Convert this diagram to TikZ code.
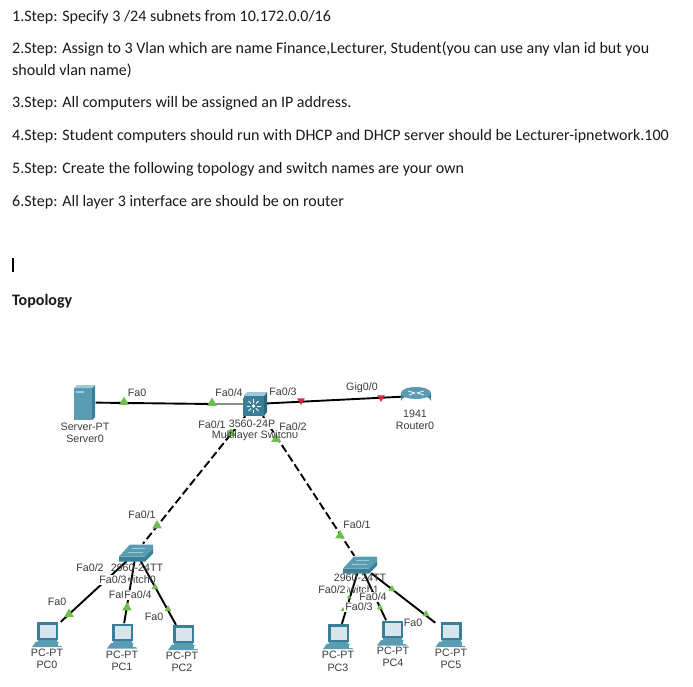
\documentclass[tikz,border=0pt]{standalone}
\usepackage{fontspec}
\setmainfont{Carlito}
\newfontfamily\labelfont{Liberation Sans}
\usetikzlibrary{shapes.geometric}
\definecolor{tealmid}{HTML}{5A9DB3}
\definecolor{tealdark}{HTML}{3A7F97}
\definecolor{teallight}{HTML}{9CCAD8}
\definecolor{screenblue}{HTML}{D6E6EC}
\definecolor{portgreen}{HTML}{6CC04A}
\definecolor{portred}{HTML}{D8263C}
\definecolor{labelgray}{HTML}{3A3A3A}

\begin{document}
\begin{tikzpicture}[x=1pt, y=-1pt,
    steptext/.style={anchor=base west, inner sep=0pt, font=\fontsize{16}{19}\selectfont, text=black!90},
    devlabel/.style={font=\labelfont\fontsize{10.7}{12}\selectfont, text=labelgray, inner sep=0pt},
    portlabel/.style={font=\labelfont\fontsize{10.7}{12}\selectfont, text=labelgray, fill=white, inner xsep=1pt, inner ysep=1.5pt},
    hostbox/.style={minimum width=30pt, minimum height=25pt, inner sep=0pt},
    link/.style={line width=1.9pt, black},
    trunk/.style={link, dash pattern=on 8pt off 3.5pt},
    portup/.style={regular polygon, regular polygon sides=3, fill=portgreen, inner sep=0pt, minimum size=11pt},
    portdown/.style={regular polygon, regular polygon sides=3, shape border rotate=180, fill=portred, inner sep=0pt, minimum size=9pt},
    pcicon/.pic={
        \fill [tealdark] (-10,-12.5) -- (11,-12.5) -- (11,5) -- (-10,5) -- cycle;
        \fill [screenblue] (-7.5,-10) rectangle (8.5,3);
        \fill [tealmid] (-9,5) rectangle (10,7);
        \fill [tealmid] (-11,7) -- (11,7) -- (15,12.5) -- (-15,12.5) -- cycle;
        \fill [white] (11,8) rectangle (14,11);
    },
    srvicon/.pic={
        \fill [tealdark] (7,-14.5) -- (10,-17.5) -- (10,14.5) -- (7,17.5) -- cycle;
        \fill [teallight] (-11,-14.5) -- (-8,-17.5) -- (10,-17.5) -- (7,-14.5) -- cycle;
        \fill [tealmid] (-11,-14.5) rectangle (7,17.5);
        \fill [teallight] (-9,-11.5) rectangle (-1,-9.5);
    },
    mswicon/.pic={
        \fill [tealdark!80!black] (9,-8) -- (12,-12) -- (12,8) -- (9,12) -- cycle;
        \fill [teallight] (-12,-8) -- (-8,-12) -- (12,-12) -- (9,-8) -- cycle;
        \fill [tealdark] (-12,-8) rectangle (9,12);
        \foreach \ang in {0,45,...,315} {
            \draw [white, line width=0.9pt] (-1.5,2) ++(\ang:3.5) -- ++(\ang:3.5);
        }
        \fill [white] (-1.5,2) circle (1.8);
    },
    swicon/.pic={
        \fill [tealdark] (-17,4) -- (9,4) -- (17,-4) -- (17,1) -- (9,9) -- (-17,9) -- cycle;
        \fill [tealmid] (-17,4) -- (-6,-8) -- (17,-8) -- (17,-4) -- (9,4) -- cycle;
        \draw [teallight, line width=0.6pt] (-8,0) -- (7,0) (-4,-4) -- (9,-4);
    },
    rtricon/.pic={
        \shade [left color=tealdark, middle color=screenblue, right color=tealdark]
            (-15,-3) -- (-15,5) arc [start angle=180, end angle=360, x radius=15, y radius=6]
            -- (15,-3) -- cycle;
        \fill [tealmid] (0,-3) ellipse [x radius=15, y radius=6];
        \draw [white, line width=0.7pt] (-8,-5) -- (-1,-3) (1,-3) -- (8,-1) (-7,-1) -- (-1,-3) (1,-3) -- (8,-5);
    }
]

    % 1. The task text
    \node [steptext] (line1) at (12,21.5) {1.Step: Specify 3 /24 subnets from 10.172.0.0/16};
    \node [steptext] (line2) at (12,53.5) {2.Step: Assign to 3 Vlan which are name Finance,Lecturer, Student(you can use any vlan id but you};
    \node [steptext] (line2b) at (12,75.5) {should vlan name)};
    \node [steptext] (line3) at (12,107.5) {3.Step: All computers will be assigned an IP address.};
    \node [steptext] (line4) at (12,140.5) {4.Step: Student computers should run with DHCP and DHCP server should be Lecturer-ipnetwork.100};
    \node [steptext] (line5) at (12,173.5) {5.Step: Create the following topology and switch names are your own};
    \node [steptext] (line6) at (12,206.5) {6.Step: All layer 3 interface are should be on router};
    \fill [black] (12.4,258) rectangle (14,272);
    \node [steptext] (topo) at (12,305) {\textbf{Topology}};

    % 2. The devices
    \node [minimum width=21pt, minimum height=35pt, inner sep=0pt] (Server0) at (85,402.5) {};
    \node [minimum width=24pt, minimum height=24pt, inner sep=0pt] (MSwitch) at (255,404) {};
    \node [minimum width=30pt, minimum height=20pt, inner sep=0pt] (Router0) at (416,396) {};
    \node [minimum width=34pt, minimum height=17pt, inner sep=0pt] (Switch0) at (136,552.5) {};
    \node [minimum width=34pt, minimum height=17pt, inner sep=0pt] (Switch1) at (360,564.5) {};
    \node [hostbox] (PC0) at (47,634.5) {};
    \node [hostbox] (PC1) at (122,636) {};
    \node [hostbox] (PC2) at (183,637.5) {};
    \node [hostbox] (PC3) at (338,636.5) {};
    \node [hostbox] (PC4) at (392,633) {};
    \node [hostbox] (PC5) at (450.5,634.5) {};
    \coordinate (Fa04end) at (212,404);

    % The connections
    \draw [link] (Server0) -- (Fa04end);
    \draw [link, black!45] (Fa04end) -- (MSwitch);
    \draw [link] (MSwitch) -- (Router0);
    \draw [trunk] (MSwitch) -- (Switch0);
    \draw [trunk] (MSwitch) -- (Switch1);
    \draw [link] (Switch0) -- (PC0);
    \draw [link] (Switch0) -- (PC1);
    \draw [link] (Switch0) -- (PC2);
    \draw [link] (Switch1) -- (PC3);
    \draw [link] (Switch1) -- (PC4);
    \draw [link] (Switch1) -- (PC5);

    % The icons
    \pic at (Server0) {srvicon};
    \pic at (MSwitch) {mswicon};
    \pic at (Router0) {rtricon};
    \pic at (Switch0) {swicon};
    \pic at (Switch1) {swicon};
    \pic at (PC0) {pcicon};
    \pic at (PC1) {pcicon};
    \pic at (PC2) {pcicon};
    \pic at (PC3) {pcicon};
    \pic at (PC4) {pcicon};
    \pic at (PC5) {pcicon};

    % 3. The link lights
    \node [portup] (ledA) at (124,402) {};
    \node [portup] (ledB) at (212,403) {};
    \node [portdown] (ledC) at (301,400.5) {};
    \node [portdown] (ledD) at (381,397.5) {};
    \node [portup] (ledE) at (231,433) {};
    \node [portup] (ledF) at (276,439) {};
    \node [portup] (ledG) at (157,525.5) {};
    \node [portup] (ledH) at (340,535.5) {};
    \node [portup] (ledI) at (69,614) {};
    \node [portup] (ledJ) at (127,607.5) {};
    \node [portup, minimum size=8pt] (ledK) at (155,587) {};
    \node [portup, minimum size=8pt] (ledL) at (168,609) {};
    \node [portup, minimum size=5pt] (ledM) at (343,609.5) {};
    \node [portup, minimum size=5pt] (ledN) at (349,597) {};
    \node [portup, minimum size=7pt] (ledO) at (380,607.5) {};
    \node [portup, minimum size=8pt] (ledP) at (392,589) {};
    \node [portup, minimum size=8pt] (ledQ) at (426,614) {};

    % 4. The device names
    \node [devlabel] (srvA) at (85,427) {Server-PT};
    \node [devlabel] (srvB) at (85,439) {Server0};
    \node [devlabel] (rtrA) at (415,414) {1941};
    \node [devlabel] (rtrB) at (415,426) {Router0};
    \node [devlabel] (pc0A) at (47,653) {PC-PT};
    \node [devlabel] (pc0B) at (47,665) {PC0};
    \node [devlabel] (pc1A) at (122,655) {PC-PT};
    \node [devlabel] (pc1B) at (122,667) {PC1};
    \node [devlabel] (pc2A) at (182,656) {PC-PT};
    \node [devlabel] (pc2B) at (182,668) {PC2};
    \node [devlabel] (pc3A) at (338,655) {PC-PT};
    \node [devlabel] (pc3B) at (338,668) {PC3};
    \node [devlabel] (pc4A) at (393,651) {PC-PT};
    \node [devlabel] (pc4B) at (393,663) {PC4};
    \node [devlabel] (pc5A) at (451,653) {PC-PT};
    \node [devlabel] (pc5B) at (451,665) {PC5};

    % These overlap, the later ones hide the earlier ones
    \node [devlabel] (mswB) at (255,436) {Multilayer Switch0};
    \node [devlabel, fill=white, inner ysep=1.5pt] (mswA) at (252,423.5) {3560-24P};
    \node [devlabel] (sw0B) at (137,580) {Switch0};
    \node [devlabel] (sw0A) at (137,568) {2960-24TT};
    \node [devlabel] (sw1B) at (360,590) {Switch1};
    \node [devlabel] (sw1A) at (360,578) {2960-24TT};

    % 5. The port names
    \node [portlabel] (pA) at (137,393) {Fa0};
    \node [portlabel] (pB) at (229,393) {Fa0/4};
    \node [portlabel] (pC) at (212,425) {Fa0/1};
    \node [portlabel] (pD) at (283,392) {Fa0/3};
    \node [portlabel] (pE) at (293,427) {Fa0/2};
    \node [portlabel] (pF) at (362,388) {Gig0/0};
    \node [portlabel] (pG) at (142,515) {Fa0/1};
    \node [portlabel] (pH) at (90,568) {Fa0/2};
    \node [portlabel] (pI) at (113,580) {Fa0/3};
    \node [portlabel] (pJ) at (118,595) {Fa0};
    \node [portlabel] (pK) at (138,595) {Fa0/4};
    \node [portlabel] (pL) at (57,602) {Fa0};
    \node [portlabel] (pM) at (154,617) {Fa0};
    \node [portlabel] (pN) at (357,525) {Fa0/1};
    \node [portlabel] (pO) at (332,590) {Fa0/2};
    \node [portlabel] (pP) at (359,607) {Fa0/3};
    \node [portlabel] (pQ) at (373,597) {Fa0/4};
    \node [portlabel] (pR) at (413,623) {Fa0};

    \useasboundingbox (0,0) rectangle (693,687);
\end{tikzpicture}
\end{document}
